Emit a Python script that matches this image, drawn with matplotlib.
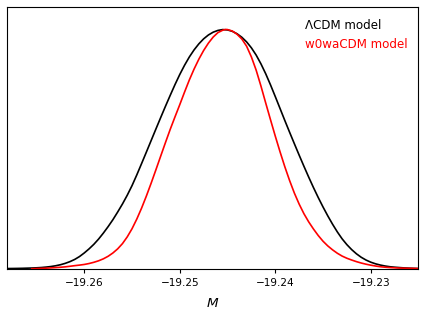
import matplotlib
matplotlib.use('Agg')
import matplotlib.pyplot as plt

# Marginalised posterior of M (normalised to peak = 1)
m_lcdm = [-19.268, -19.2675, -19.267, -19.2665, -19.266, -19.2655, -19.265, -19.2645,
          -19.264, -19.2635, -19.263, -19.2625, -19.262, -19.2615, -19.261, -19.2605,
          -19.260, -19.2595, -19.259, -19.2585, -19.258, -19.2575, -19.257, -19.2565,
          -19.256, -19.2555, -19.255, -19.2545, -19.254, -19.2535, -19.253, -19.2525,
          -19.252, -19.2515, -19.251, -19.2505, -19.250, -19.2495, -19.249, -19.2485,
          -19.248, -19.2475, -19.247, -19.2465, -19.246, -19.2455, -19.245, -19.2445,
          -19.244, -19.2435, -19.243, -19.2425, -19.242, -19.2415, -19.241, -19.2405,
          -19.240, -19.2395, -19.239, -19.2385, -19.238, -19.2375, -19.237, -19.2365,
          -19.236, -19.2355, -19.235, -19.2345, -19.234, -19.2335, -19.233, -19.2325,
          -19.232, -19.2315, -19.231, -19.2305, -19.230, -19.2295, -19.229, -19.2285,
          -19.228, -19.2275, -19.227, -19.2265, -19.226, -19.2255, -19.225]
p_lcdm = [0.0020, 0.0022, 0.0025, 0.0029, 0.0035, 0.0041, 0.0050, 0.0062,
          0.0080, 0.0103, 0.0135, 0.0178, 0.0235, 0.0308, 0.0400, 0.0520,
          0.0670, 0.0840, 0.1030, 0.1250, 0.1500, 0.1770, 0.2060, 0.2380,
          0.2715, 0.3080, 0.3480, 0.3928, 0.4400, 0.4878, 0.5360, 0.5842,
          0.6320, 0.6791, 0.7250, 0.7698, 0.8120, 0.8505, 0.8850, 0.9148,
          0.9400, 0.9608, 0.9770, 0.9887, 0.9960, 0.9995, 0.9980, 0.9923,
          0.9820, 0.9674, 0.9480, 0.9233, 0.8930, 0.8565, 0.8150, 0.7689,
          0.7200, 0.6701, 0.6200, 0.5711, 0.5230, 0.4755, 0.4290, 0.3837,
          0.3400, 0.2984, 0.2590, 0.2218, 0.1870, 0.1548, 0.1260, 0.1017,
          0.0810, 0.0635, 0.0490, 0.0375, 0.0285, 0.0217, 0.0165, 0.0125,
          0.0095, 0.0075, 0.0060, 0.0046, 0.0035, 0.0027, 0.0020]

m_w0wa = [-19.2655, -19.265, -19.2645,
          -19.264, -19.2635, -19.263, -19.2625, -19.262, -19.2615, -19.261, -19.2605,
          -19.260, -19.2595, -19.259, -19.2585, -19.258, -19.2575, -19.257, -19.2565,
          -19.256, -19.2555, -19.255, -19.2545, -19.254, -19.2535, -19.253, -19.2525,
          -19.252, -19.2515, -19.251, -19.2505, -19.250, -19.2495, -19.249, -19.2485,
          -19.248, -19.2475, -19.247, -19.2465, -19.246, -19.2455, -19.2452, -19.245,
          -19.2445, -19.244, -19.2435, -19.243, -19.2425, -19.242, -19.2415, -19.241,
          -19.2405, -19.240, -19.2395, -19.239, -19.2385, -19.238, -19.2375, -19.237,
          -19.2365, -19.236, -19.2355, -19.235, -19.2345, -19.234, -19.2335, -19.233,
          -19.2325, -19.232, -19.2315, -19.231, -19.2305, -19.230, -19.2295, -19.229,
          -19.2285, -19.228, -19.2275, -19.227, -19.2265, -19.226, -19.2255, -19.225]
p_w0wa = [0.0010, 0.0020, 0.0027,
          0.0035, 0.0047, 0.0060, 0.0073, 0.0090, 0.0114, 0.0140, 0.0163,
          0.0190, 0.0229, 0.0280, 0.0343, 0.0425, 0.0532, 0.0670, 0.0842,
          0.1060, 0.1341, 0.1680, 0.2084, 0.2540, 0.3043, 0.3580, 0.4140,
          0.4710, 0.5276, 0.5830, 0.6351, 0.6860, 0.7385, 0.7890, 0.8348,
          0.8760, 0.9122, 0.9430, 0.9684, 0.9870, 0.9969, 1.0000, 0.9995,
          0.9934, 0.9800, 0.9601, 0.9300, 0.8854, 0.8300, 0.7639, 0.6930,
          0.6234, 0.5550, 0.4893, 0.4270, 0.3694, 0.3170, 0.2711, 0.2310,
          0.1968, 0.1670, 0.1398, 0.1160, 0.0964, 0.0800, 0.0658, 0.0540,
          0.0449, 0.0375, 0.0308, 0.0250, 0.0201, 0.0160, 0.0125, 0.0096,
          0.0075, 0.0060, 0.0050, 0.0040, 0.0035, 0.0030, 0.0025, 0.0020]

labels = ['ΛCDM model', 'w0waCDM model']
colors = ['k', 'r']
xticks = [-19.26, -19.25, -19.24, -19.23]
xticklabels = ['\u221219.26', '\u221219.25', '\u221219.24', '\u221219.23']

fig = plt.figure(figsize=(4.24, 3.16), dpi=100)
ax = fig.add_axes([0.0172, 0.1487, 0.9694, 0.8301])

ax.plot(m_lcdm, p_lcdm, color=colors[0], lw=1.2, label=labels[0])
ax.plot(m_w0wa, p_w0wa, color=colors[1], lw=1.2, label=labels[1])

ax.set_xlim(-19.26806, -19.22502)
ax.set_ylim(0, 1.095)
ax.set_yticks([])
ax.set_xticks(xticks)
ax.set_xticklabels(xticklabels)
ax.tick_params(axis='x', labelsize=7.6, length=3)
ax.set_xlabel('$M$', fontsize=9.7, labelpad=6.5)

leg = ax.legend(loc='upper right', bbox_to_anchor=(1.005, 1.0), frameon=False,
                handlelength=0, handletextpad=0, fontsize=8.6, labelspacing=0.45,
                labelcolor=colors, borderaxespad=0.65)
for h in leg.legend_handles:
    h.set_visible(False)

fig.savefig('out.png', dpi=100)
